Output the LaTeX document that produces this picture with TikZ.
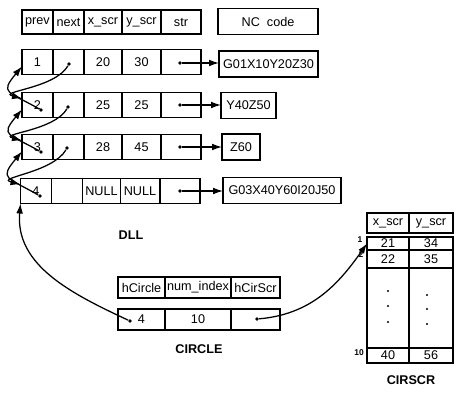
\documentclass[tikz,border=0pt]{standalone}
\usepackage{fontspec}
\setmainfont{Liberation Sans}
\usetikzlibrary{arrows.meta}

\begin{document}
\begin{tikzpicture}[x=0.25mm, y=-0.25mm, font=\fontsize{9}{10}\selectfont,
  >={Latex[length=2.5mm,width=1.7mm]},
  cell/.style={draw, line width=1.1pt, inner sep=0pt, outer sep=0pt,
    minimum height=6.25mm},
  colp/.style={cell, minimum width=7.75mm},
  coln/.style={cell, minimum width=7.75mm},
  colx/.style={cell, minimum width=9.5mm},
  coly/.style={cell, minimum width=9.75mm},
  cols/.style={cell, minimum width=10mm},
  ncbox/.style={cell, minimum height=6.5mm},
  dot/.style={circle, fill, inner sep=0pt, minimum size=2.6pt},
  tiny/.style={circle, fill, inner sep=0pt, minimum size=1.5pt},
  idx/.style={font=\fontsize{6}{7}\selectfont\bfseries, inner sep=0pt},
  link/.style={->, line width=0.9pt},
  title/.style={font=\fontsize{9}{10}\selectfont\bfseries}]
\useasboundingbox (0, 0) rectangle (456, 395);

% field names of the DLL
\node[colp, minimum height=6mm] (hp) at (37.5, 22) {prev};
\node[coln, minimum height=6mm] (hn) at (68.5, 22) {next};
\node[colx, minimum height=6mm] (hx) at (103, 22) {x\_scr};
\node[coly, minimum height=6mm] (hy) at (141.5, 22) {y\_scr};
\node[cols, minimum height=6mm] (hs) at (181, 22) {str};
\node[ncbox, minimum width=25mm] (hnc) at (268, 21.5) {NC\ \ code};

% row 1
\node[colp] (p1) at (37.5, 62) {1\hspace{1mm}};
\node[coln] (n1) at (68.5, 62) {};
\node[colx] (x1) at (103, 62) {20};
\node[coly] (y1) at (141.5, 62) {30};
\node[cols] (s1) at (181, 62) {};
\node[ncbox, minimum width=24.75mm] (nc1) at (268.5, 64) {G01X10Y20Z30};
\node[dot] (nd1) at (69, 64) {};
\node[dot] (sd1) at (180, 63) {};

% row 2
\node[colp] (p2) at (37.5, 105) {2\hspace{2mm}};
\node[coln] (n2) at (68.5, 105) {};
\node[colx] (x2) at (103, 105) {25};
\node[coly] (y2) at (141.5, 105) {25};
\node[cols] (s2) at (181, 105) {};
\node[ncbox, minimum width=13.75mm] (nc2) at (248.5, 105.5) {Y40Z50};
\node[dot] (pd2) at (41, 110) {};
\node[dot] (nd2) at (68, 107) {};
\node[dot] (sd2) at (180, 105) {};

% row 3
\node[colp] (p3) at (37.5, 147) {3\hspace{2mm}};
\node[coln] (n3) at (68.5, 147) {};
\node[colx] (x3) at (103, 147) {28};
\node[coly] (y3) at (141.5, 147) {45};
\node[cols] (s3) at (181, 147) {};
\node[ncbox, minimum width=9.5mm] (nc3) at (241, 147) {Z60};
\node[dot] (pd3) at (41, 152) {};
\node[dot] (nd3) at (67, 148) {};
\node[dot] (sd3) at (180, 147) {};

% row 4
\node[colp] (p4) at (36, 191) {4\hspace{2mm}};
\node[coln] (n4) at (67, 191) {};
\node[colx] (x4) at (101.5, 191) {NULL};
\node[coly] (y4) at (140, 191) {NULL};
\node[cols] (s4) at (180, 191) {};
\node[ncbox, minimum width=29.5mm] (nc4) at (282, 190.5) {G03X40Y60I20J50};
\node[dot] (pd4) at (40, 196) {};
\node[dot] (sd4) at (180, 191) {};

\node[title] (dll) at (131, 235) {DLL};

% str -> NC code
\draw[link] (sd1) -- (sd1 -| nc1.west);
\draw[link] (sd2) -- (sd2 -| nc2.west);
\draw[link] (sd3) -- (sd3 -| nc3.west);
\draw[link] (sd4) -- (sd4 -| nc4.west);

% next pointers
\draw[link] (nd1) to[out=-120, in=165, looseness=1.2] ([yshift=-1.5mm]p2.north west);
\draw[link] (nd2) to[out=-120, in=165, looseness=1.2] ([yshift=-1.5mm]p3.north west);
\draw[link] (nd3) to[out=-120, in=165, looseness=1.2] ([yshift=-1.5mm]p4.north west);
% prev pointers
\draw[link] (pd2) to[out=150, in=230, looseness=2] ([yshift=2mm]p1.south west);
\draw[link] (pd3) to[out=150, in=230, looseness=2] ([yshift=2mm]p2.south west);
\draw[link] (pd4) to[out=150, in=230, looseness=2] ([yshift=2mm]p3.south west);

% CIRCLE
\node[cell, minimum width=11.75mm, minimum height=5.25mm] (hc) at (141.5, 287.5) {hCircle};
\node[cell, minimum width=16.5mm, minimum height=5.25mm] (hi) at (198, 287.5) {num\_index};
\node[cell, minimum width=12.25mm, minimum height=5.25mm] (hr) at (255.5, 287.5) {hCirScr};
\node[cell, minimum width=11.75mm, minimum height=5.25mm] (c1) at (141.5, 319.5) {4};
\node[cell, minimum width=16.5mm, minimum height=5.25mm] (c2) at (198, 319.5) {10};
\node[cell, minimum width=12.25mm, minimum height=5.25mm] (c3) at (255.5, 319.5) {};
\node[dot] (cd1) at (130, 321) {};
\node[dot] (cd3) at (257, 319) {};
\node[title] (circle) at (199, 349) {CIRCLE};

% CIRSCR
\node[cell, minimum width=10.5mm, minimum height=5mm] (tx) at (388, 223) {x\_scr};
\node[cell, minimum width=11mm, minimum height=5mm] (ty) at (431, 223) {y\_scr};
\node[cell, minimum width=10.5mm, minimum height=3.25mm] (a1) at (388, 243.5) {21};
\node[cell, minimum width=11mm, minimum height=3.25mm] (b1) at (431, 243.5) {34};
\node[cell, minimum width=10.5mm, minimum height=4.5mm] (a2) at (388, 259) {22};
\node[cell, minimum width=11mm, minimum height=4.5mm] (b2) at (431, 259) {35};
\node[cell, minimum width=10.5mm, minimum height=20mm] (am) at (388, 308) {};
\node[cell, minimum width=11mm, minimum height=20mm] (bm) at (431, 308) {};
\node[cell, minimum width=10.5mm, minimum height=3.75mm] (a10) at (388, 355.5) {40};
\node[cell, minimum width=11mm, minimum height=3.75mm] (b10) at (431, 355.5) {56};
\node[idx] (i1) at (360, 240) {1};
\node[idx] (i2) at (361, 255) {2};
\node[idx] (i10) at (359, 353) {10};
\node[tiny] (da1) at (388, 291) {};
\node[tiny] (da2) at (388, 306) {};
\node[tiny] (da3) at (388, 322) {};
\node[tiny] (db1) at (427, 295) {};
\node[tiny] (db2) at (427, 309) {};
\node[tiny] (db3) at (427, 324) {};
\node[title] (cirscr) at (411, 380) {CIRSCR};

% CIRCLE -> DLL and CIRCLE -> CIRSCR
\draw[link] (cd1) to[out=155, in=-95] (p4.south west);
\draw[link] (cd3) to[out=5, in=235] (a1.west);
\end{tikzpicture}
\end{document}
